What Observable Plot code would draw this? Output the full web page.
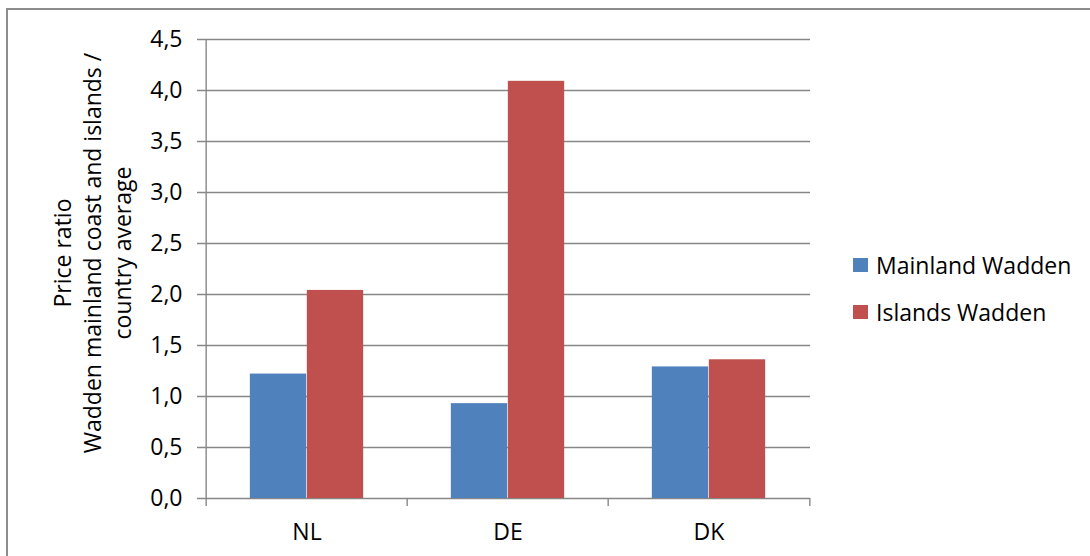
<!DOCTYPE html>
<html><head><meta charset="utf-8">
<script src="https://cdn.jsdelivr.net/npm/d3@7"></script>
<script src="https://cdn.jsdelivr.net/npm/@observablehq/plot@0.6"></script>
<style>
body{margin:0;background:#fff;}
#wrap{position:relative;width:1090px;height:556px;overflow:hidden;font-family:"Open Sans",sans-serif;background:#fff;}
#border{position:absolute;left:6px;top:8px;width:1200px;height:700px;border-left:2px solid #8c8c8c;border-top:2px solid #8c8c8c;}
#chart svg{position:absolute;left:0;top:0;}
#legend{position:absolute;left:853px;top:241px;font-size:23px;color:#000;}
.item{display:flex;align-items:center;height:47px;white-space:nowrap;}
.sw{width:15px;height:14px;margin-right:8px;}
</style></head><body>
<div id="wrap"><div id="border"></div><div id="chart"></div><div id="legend"></div></div>
<script>
// ---- data ----
const countries = ["NL", "DE", "DK"];
const seriesNames = ["Mainland Wadden", "Islands Wadden"];
const mainland = [1.22, 0.93, 1.29];
const islands = [2.04, 4.09, 1.36];
const seriesColors = ["#4F81BD", "#C0504D"];
const yTicks = [0, 0.5, 1, 1.5, 2, 2.5, 3, 3.5, 4, 4.5];
const yTitleLines = ["Price ratio", "Wadden mainland coast and islands /", "country average"];

// ---- layout ----
const W = 1090, H = 556, ML = 205, MR = 280, MT = 39, MB = 58;
const bw = (W - ML - MR) / countries.length;
const barW = 57;
const gap = (bw - 2 * barW) / 2;
const gridColor = "#878787";

const rows = countries.flatMap((c, i) => [
  {country: c, series: seriesNames[0], value: mainland[i]},
  {country: c, series: seriesNames[1], value: islands[i]}
]);
const fmt = d => d.toFixed(1).replace(".", ",");

const chart = Plot.plot({
  width: W, height: H,
  marginLeft: ML, marginRight: MR, marginTop: MT, marginBottom: MB,
  style: {fontFamily: "'Open Sans', sans-serif", fontSize: "23px", color: "#000", background: "transparent", overflow: "visible"},
  x: {domain: countries, padding: 0, axis: null},
  y: {domain: [0, 4.5], axis: null},
  color: {domain: seriesNames, range: seriesColors},
  marks: [
    Plot.ruleY(yTicks, {y: d => d, stroke: gridColor, strokeWidth: 1.4, insetLeft: -8}),
    Plot.ruleX([countries[0]], {x: d => d, dx: -bw / 2, stroke: gridColor, strokeWidth: 1.4, insetBottom: -8}),
    Plot.ruleX(countries.slice(1), {x: d => d, dx: -bw / 2, y1: 0, y2: 0, insetBottom: -8, stroke: gridColor, strokeWidth: 1.4}),
    Plot.ruleX([countries[countries.length - 1]], {x: d => d, dx: bw / 2, y1: 0, y2: 0, insetBottom: -8, stroke: gridColor, strokeWidth: 1.4}),
    Plot.barY(rows.filter(d => d.series === seriesNames[0]), {x: "country", y: "value", fill: "series", insetLeft: gap, insetRight: bw - gap - barW}),
    Plot.barY(rows.filter(d => d.series === seriesNames[1]), {x: "country", y: "value", fill: "series", insetLeft: gap + barW, insetRight: gap}),
    Plot.text(yTicks, {y: d => d, frameAnchor: "left", dx: -23, textAnchor: "end", text: fmt, fill: "#000"}),
    Plot.text(countries, {x: d => d, frameAnchor: "bottom", dy: 25, lineAnchor: "top", text: d => d, fill: "#000"}),
    Plot.text([yTitleLines.join("\n")], {frameAnchor: "left", dx: -114, dy: -16, rotate: -90, lineHeight: 1.3, textAnchor: "middle", lineAnchor: "middle", fill: "#000"})
  ]
});
document.getElementById("chart").appendChild(chart);

const legend = document.getElementById("legend");
seriesNames.forEach((s, i) => {
  const item = document.createElement("div");
  item.className = "item";
  const sw = document.createElement("span");
  sw.className = "sw";
  sw.style.background = seriesColors[i];
  const t = document.createElement("span");
  t.textContent = s;
  item.appendChild(sw);
  item.appendChild(t);
  legend.appendChild(item);
});
</script>
</body></html>
